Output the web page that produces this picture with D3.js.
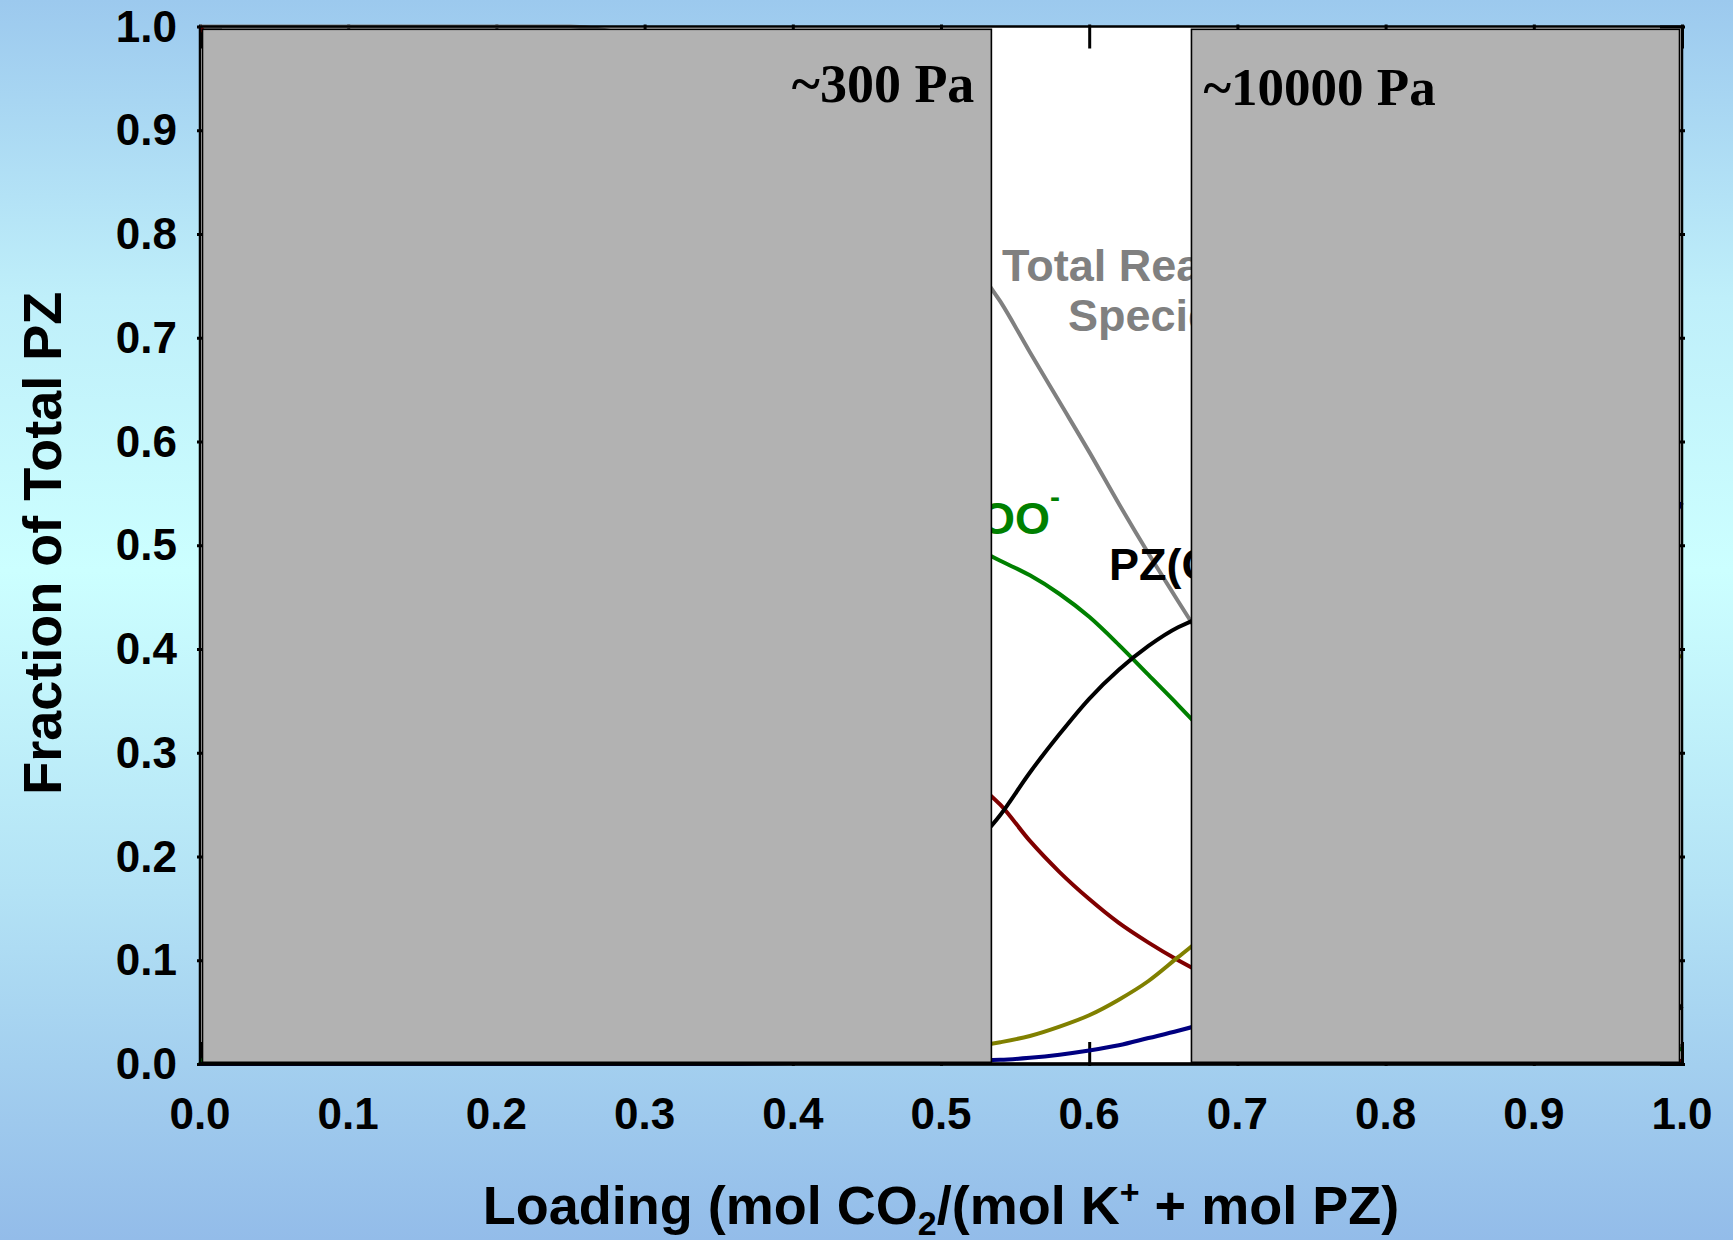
<!DOCTYPE html>
<html>
<head>
<meta charset="utf-8">
<script src="https://cdn.jsdelivr.net/npm/d3@7"></script>
<style>
  html, body { margin: 0; padding: 0; }
  body { width: 1733px; height: 1240px; overflow: hidden; }
  svg { display: block; }
</style>
</head>
<body>
<svg id="chart" width="1733" height="1240"></svg>
<script>
// CO2 loading, mol CO2/(mol K+ + mol PZ)
const loading = [0, 0.05, 0.1, 0.15, 0.2, 0.25, 0.3, 0.35, 0.4, 0.45, 0.5,
                 0.54, 0.56, 0.58, 0.6, 0.62, 0.64, 0.66, 0.68,
                 0.7, 0.75, 0.8, 0.85, 0.9, 0.95, 1.0];

// Fraction of total PZ carried by each species
const pzFree   = [1.0, 0.90, 0.81, 0.72, 0.64, 0.56, 0.49, 0.42, 0.37, 0.33, 0.29,
                  0.250, 0.215, 0.185, 0.159, 0.136, 0.117, 0.100, 0.085,
                  0.072, 0.050, 0.034, 0.022, 0.013, 0.007, 0.003];
const pzCoo    = [0.0, 0.10, 0.19, 0.28, 0.36, 0.44, 0.50, 0.56, 0.58, 0.55, 0.515,
                  0.485, 0.471, 0.453, 0.431, 0.404, 0.375, 0.346, 0.316,
                  0.285, 0.215, 0.155, 0.100, 0.060, 0.032, 0.014];
const pzDiCoo  = [0.0, 0.0, 0.0, 0.0, 0.0, 0.0, 0.009, 0.018, 0.045, 0.108, 0.180,
                  0.240, 0.281, 0.318, 0.352, 0.380, 0.403, 0.421, 0.432,
                  0.437, 0.430, 0.395, 0.330, 0.240, 0.140, 0.053];
const pzH      = [0.0, 0.0, 0.0, 0.0, 0.0, 0.0, 0.001, 0.002, 0.004, 0.008, 0.013,
                  0.021, 0.027, 0.036, 0.047, 0.062, 0.080, 0.103, 0.126,
                  0.150, 0.215, 0.270, 0.320, 0.360, 0.385, 0.393];
const hPzCoo   = [0.0, 0.0, 0.0, 0.0, 0.0, 0.0, 0.0, 0.0, 0.001, 0.002, 0.003,
                  0.004, 0.006, 0.009, 0.013, 0.018, 0.025, 0.032, 0.040,
                  0.050, 0.085, 0.140, 0.220, 0.320, 0.430, 0.541];
const reactive = [1.0, 1.0, 1.0, 1.0, 1.0, 1.0, 0.99, 0.98, 0.95, 0.88, 0.805,
                  0.735, 0.686, 0.638, 0.590, 0.540, 0.492, 0.446, 0.401,
                  0.357, 0.265, 0.189, 0.122, 0.073, 0.039, 0.017];

const seriesNames  = ["Total Reactive Species", "PZ", "PZCOO-", "PZ(COO-)2", "PZH+", "H+PZCOO-"];
const seriesValues = [reactive, pzFree, pzCoo, pzDiCoo, pzH, hPzCoo];
const seriesColors = ["#808080", "#800000", "#008000", "#000000", "#808000", "#000080"];

// Loading ranges shaded outside the operating window (start, end)
const shadeStart = [0, 0.669];
const shadeEnd   = [0.534, 1.0];
const shadeLabel = ["~300 Pa", "~10000 Pa"];

const xTicks = [0, 0.1, 0.2, 0.3, 0.4, 0.5, 0.6, 0.7, 0.8, 0.9, 1.0];
const yTicks = [0, 0.1, 0.2, 0.3, 0.4, 0.5, 0.6, 0.7, 0.8, 0.9, 1.0];

const W = 1733, H = 1240;
const m = { left: 200, right: 1682, top: 26.5, bottom: 1064 };

const svg = d3.select("#chart");

// page background gradient
const defs = svg.append("defs");
const grad = defs.append("linearGradient").attr("id", "bg")
  .attr("x1", 0).attr("y1", 0).attr("x2", 0).attr("y2", 1);
grad.append("stop").attr("offset", "0%").attr("stop-color", "#9cc9ee");
grad.append("stop").attr("offset", "24%").attr("stop-color", "#bfeffa");
grad.append("stop").attr("offset", "46%").attr("stop-color", "#ccffff");
grad.append("stop").attr("offset", "72%").attr("stop-color", "#b3e2f5");
grad.append("stop").attr("offset", "100%").attr("stop-color", "#93bce9");
svg.append("rect").attr("width", W).attr("height", H).attr("fill", "url(#bg)");

const x = d3.scaleLinear().domain([0, 1]).range([m.left, m.right]);
const y = d3.scaleLinear().domain([0, 1]).range([m.bottom, m.top]);

// plot area
svg.append("rect")
  .attr("x", x(0)).attr("y", y(1))
  .attr("width", x(1) - x(0)).attr("height", y(0) - y(1))
  .attr("fill", "#ffffff");

// frame ticks (inward, with a short outward stub)
const frame = svg.append("g");
const sides = [
  { ax: d3.axisBottom(x).tickValues(xTicks), t: `translate(0,${m.bottom})`, stub: [0, 2] },
  { ax: d3.axisTop(x).tickValues(xTicks),    t: `translate(0,${m.top})`,    stub: [0, -2] },
  { ax: d3.axisLeft(y).tickValues(yTicks),   t: `translate(${m.left},0)`,   stub: [-3, 0] },
  { ax: d3.axisRight(y).tickValues(yTicks),  t: `translate(${m.right},0)`,  stub: [3, 0] }
];
sides.forEach(s => {
  s.ax.tickSizeInner(-22).tickSizeOuter(0).tickFormat("");
  const g = frame.append("g").attr("transform", s.t).call(s.ax);
  g.select(".domain").remove();
  g.selectAll(".tick line").attr("stroke", "#000").attr("stroke-width", 3);
  g.selectAll(".tick").append("line")
    .attr("x1", 0).attr("y1", 0).attr("x2", s.stub[0]).attr("y2", s.stub[1])
    .attr("stroke", "#000").attr("stroke-width", 3);
});

// species curves
const line = d3.line()
  .x((d, i) => x(loading[i]))
  .y(d => y(d))
  .curve(d3.curveMonotoneX);

seriesValues.forEach((vals, k) => {
  svg.append("path")
    .datum(vals)
    .attr("d", line)
    .attr("fill", "none")
    .attr("stroke", seriesColors[k])
    .attr("stroke-width", 4)
    .attr("stroke-linejoin", "round");
});

// curve labels
const lab = svg.append("g")
  .attr("font-family", "'Liberation Sans', Arial, sans-serif")
  .attr("font-weight", "bold")
  .attr("font-size", 45);

const tr = lab.append("text").attr("fill", "#808080").attr("text-anchor", "middle");
tr.append("tspan").attr("x", 1153).attr("y", 281).text("Total Reactive");
tr.append("tspan").attr("x", 1153).attr("y", 331).text("Species");

const g1 = lab.append("text").attr("fill", "#008000").attr("text-anchor", "end")
  .attr("x", 1060).attr("y", 534);
g1.append("tspan").text("PZCOO");
g1.append("tspan").attr("dy", -27).attr("font-size", 30).text("-");

const b1 = lab.append("text").attr("fill", "#000000").attr("x", 1109).attr("y", 580);
b1.append("tspan").text("PZ(COO");
b1.append("tspan").attr("dy", -27).attr("font-size", 30).text("-");
b1.append("tspan").attr("dy", 27).text(")");
b1.append("tspan").attr("dy", 10).attr("font-size", 30).text("2");

// frame outline
svg.append("rect")
  .attr("x", x(0)).attr("y", y(1))
  .attr("width", x(1) - x(0)).attr("height", y(0) - y(1))
  .attr("fill", "none").attr("stroke", "#000").attr("stroke-width", 2.5);

// shaded ranges drawn over the curves
shadeStart.forEach((a, i) => {
  const x0 = x(a) + (a === 0 ? 2.5 : 0);
  const x1 = x(shadeEnd[i]) - (shadeEnd[i] === 1 ? 2.5 : 0);
  svg.append("rect")
    .attr("x", x0).attr("y", y(1) + 2.8)
    .attr("width", x1 - x0).attr("height", y(0) - y(1) - 4.5)
    .attr("fill", "#b2b2b2")
    .attr("stroke", "#000000")
    .attr("stroke-width", 1.6);
});

svg.append("text")
  .attr("x", x(shadeEnd[0]) - 17).attr("y", 102)
  .attr("text-anchor", "end")
  .attr("font-family", "'Liberation Serif', 'Times New Roman', serif")
  .attr("font-weight", "bold").attr("font-size", 54)
  .text(shadeLabel[0]);
svg.append("text")
  .attr("x", x(shadeStart[1]) + 12).attr("y", 105)
  .attr("font-family", "'Liberation Serif', 'Times New Roman', serif")
  .attr("font-weight", "bold").attr("font-size", 53)
  .text(shadeLabel[1]);

// bottom axis line is drawn heavier
svg.append("line")
  .attr("x1", x(0)).attr("x2", x(1)).attr("y1", m.bottom).attr("y2", m.bottom)
  .attr("stroke", "#000").attr("stroke-width", 3.5);

// tick labels
const tl = svg.append("g")
  .attr("font-family", "'Liberation Sans', Arial, sans-serif")
  .attr("font-weight", "bold").attr("font-size", 44).attr("fill", "#000");
xTicks.forEach(v => {
  tl.append("text").attr("x", x(v)).attr("y", 1129)
    .attr("text-anchor", "middle").text(d3.format(".1f")(v));
});
yTicks.forEach(v => {
  tl.append("text").attr("x", 177).attr("y", y(v) + 15)
    .attr("text-anchor", "end").text(d3.format(".1f")(v));
});

// axis titles
const xt = svg.append("text")
  .attr("x", (m.left + m.right) / 2).attr("y", 1224)
  .attr("text-anchor", "middle")
  .attr("font-family", "'Liberation Sans', Arial, sans-serif")
  .attr("font-weight", "bold").attr("font-size", 54);
xt.append("tspan").text("Loading (mol CO");
xt.append("tspan").attr("font-size", 34).attr("dy", 11).text("2");
xt.append("tspan").attr("dy", -11).text("/(mol K");
xt.append("tspan").attr("font-size", 34).attr("dy", -20).text("+");
xt.append("tspan").attr("dy", 20).text(" + mol PZ)");

svg.append("text")
  .attr("transform", `translate(61,${(m.top + m.bottom) / 2 - 2}) rotate(-90)`)
  .attr("text-anchor", "middle")
  .attr("font-family", "'Liberation Sans', Arial, sans-serif")
  .attr("font-weight", "bold").attr("font-size", 54)
  .text("Fraction of Total PZ");
</script>
</body>
</html>
